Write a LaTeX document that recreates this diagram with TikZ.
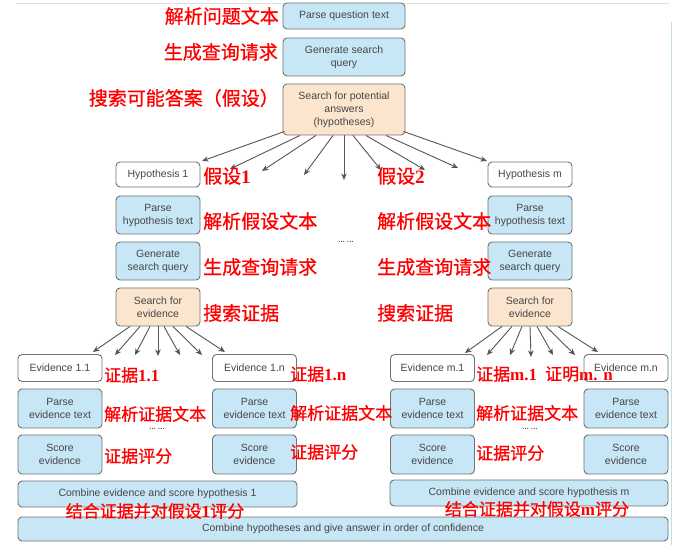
\documentclass[tikz,border=0pt]{standalone}
\usepackage{fontspec}
\setmainfont{Liberation Sans}
\newfontfamily\cjkfont{Noto Sans CJK SC}[RawFeature={embolden=0.8}]
\newfontfamily\latserif{Liberation Serif}
\usetikzlibrary{arrows.meta,calc}
\definecolor{boxblue}{RGB}{199,230,246}
\definecolor{boxpeach}{RGB}{252,229,206}
\definecolor{boxline}{RGB}{115,115,115}
\definecolor{boxtext}{RGB}{70,70,70}
\definecolor{arrowgray}{RGB}{85,85,85}
\definecolor{labred}{RGB}{255,0,0}
\newcommand\numb[1]{{\latserif\bfseries #1}}
\tikzset{
  box/.style={draw=boxline, rounded corners=4pt, line width=0.9pt, text=boxtext,
    font=\fontsize{10.5}{13}\selectfont, align=center, inner sep=0pt},
  bluebox/.style={box, fill=boxblue},
  peachbox/.style={box, fill=boxpeach},
  whitebox/.style={box, fill=white},
  zh/.style={text=labred, font=\cjkfont\fontsize{19}{19}\selectfont, inner sep=0pt},
  zhs/.style={text=labred, font=\cjkfont\fontsize{17}{17}\selectfont, inner sep=0pt},
  fan/.style={draw=arrowgray, line width=0.9pt, -{Stealth[length=6.5pt,width=5.5pt]}},
  dotsnode/.style={text=boxtext, font=\fontsize{7}{7}\selectfont, inner sep=0pt}
}
\begin{document}
\begin{tikzpicture}[x=1pt,y=-1pt]
\useasboundingbox (0,0) rectangle (673,548);
\fill[white] (0,0) rectangle (673,548);
% faint scan edges
\coordinate (tl) at (16,3);
\coordinate (tr) at (669,3);
\coordinate (rt) at (671,22);
\coordinate (rb) at (671,545);
\draw[black!12, line width=0.8pt] (tl) -- (tr);
\draw[teal!25, line width=0.8pt] (rt) -- (rb);

% top column
\node[bluebox, minimum width=122pt, minimum height=26pt] (q1) at (344,16) {Parse question text};
\node[bluebox, minimum width=122pt, minimum height=38pt] (q2) at (344,57) {Generate search\\query};
\node[peachbox, minimum width=122pt, minimum height=51pt] (q3) at (344,109.5) {Search for potential\\answers\\(hypotheses)};

% hypothesis columns
\foreach \cx/\nm/\lab in {158/h1/Hypothesis 1, 530/hm/Hypothesis m}{
  \node[whitebox, minimum width=84pt, minimum height=25pt] (\nm) at (\cx,174.5) {\lab};
  \node[bluebox, minimum width=84pt, minimum height=38pt] (\nm p) at (\cx,215) {Parse\\hypothesis text};
  \node[bluebox, minimum width=84pt, minimum height=38pt] (\nm g) at (\cx,261) {Generate\\search query};
  \node[peachbox, minimum width=84pt, minimum height=38pt] (\nm s) at (\cx,307) {Search for\\evidence};
}

% evidence columns
\foreach \cx/\nm/\lab in {60/e11/Evidence 1.1, 254.5/e1n/Evidence 1.n, 432.5/em1/Evidence m.1, 626/emn/Evidence m.n}{
  \node[whitebox, minimum width=84pt, minimum height=27pt] (\nm) at (\cx,368) {\lab};
  \node[bluebox, minimum width=84pt, minimum height=39pt] (\nm p) at (\cx,408.5) {Parse\\evidence text};
  \node[bluebox, minimum width=84pt, minimum height=39pt] (\nm s) at (\cx,454.5) {Score\\evidence};
}

\node[bluebox, minimum width=279pt, minimum height=26pt] (c1) at (157.5,494) {Combine evidence and score hypothesis 1};
\node[bluebox, minimum width=278pt, minimum height=26pt] (cm) at (529,493) {Combine evidence and score hypothesis m};
\node[bluebox, minimum width=650pt, minimum height=24pt] (fin) at (343,529) {Combine hypotheses and give answer in order of confidence};

% dots
\node[dotsnode] (d1) at (346,242) {\textbf{\ldots\ \ldots}};
\node[dotsnode] (d2) at (157,429) {\textbf{\ldots\ \ldots}};
\node[dotsnode] (d3) at (530,429) {\textbf{\ldots\ \ldots}};

% top fan
\coordinate (t1) at (202,161);
\coordinate (t2) at (230,169);
\coordinate (t3) at (262,171);
\coordinate (t4) at (304,175);
\coordinate (t5) at (344,180);
\coordinate (t6) at (381,170);
\coordinate (t7) at (425,170);
\coordinate (t8) at (458,168);
\coordinate (t9) at (487,161);
\draw[fan] ($(q3.south west)+(2,-4)$) -- (t1);
\draw[fan] ($(q3.south)+(-44,0)$) -- (t2);
\draw[fan] ($(q3.south)+(-28,0)$) -- (t3);
\draw[fan] ($(q3.south)+(-11,0)$) -- (t4);
\draw[fan] (q3.south) -- (t5);
\draw[fan] ($(q3.south)+(9,0)$) -- (t6);
\draw[fan] ($(q3.south)+(22,0)$) -- (t7);
\draw[fan] ($(q3.south)+(42,0)$) -- (t8);
\draw[fan] ($(q3.south east)+(-2,-4)$) -- (t9);

% left evidence fan
\foreach \i/\dx/\tx/\ty in {1/-28/93/352, 2/-18/115/355, 3/-8/135/355, 4/0/158/356, 5/6/180/355, 6/15/202/355, 7/28/225/352}{
  \coordinate (la\i) at (\tx,\ty);
  \draw[fan] ($(h1s.south)+(\dx,0)$) -- (la\i);
}
% right evidence fan
\foreach \i/\dx/\tx/\ty in {1/-28/465/353, 2/-18/487/355, 3/-8/510/355, 4/0/531/357, 5/7/553/355, 6/16/575/355, 7/28/598/352}{
  \coordinate (ra\i) at (\tx,\ty);
  \draw[fan] ($(hms.south)+(\dx,0)$) -- (ra\i);
}

% red labels
\node[zh, anchor=east] (lq1) at (279,16) {解析问题文本};
\node[zh, anchor=east] (lq2) at (278,52) {生成查询请求};
\node[zh, anchor=east] (lq3) at (279,98) {搜索可能答案（假设）};

\node[zh, anchor=west] (lh1) at (203,176) {假设\numb{1}};
\node[zh, anchor=west] (lh1p) at (203,221) {解析假设文本};
\node[zh, anchor=west] (lh1g) at (203,267) {生成查询请求};
\node[zh, anchor=west] (lh1s) at (203,313) {搜索证据};

\node[zh, anchor=west] (lh2) at (377,176) {假设\numb{2}};
\node[zh, anchor=west] (lh2p) at (377,221) {解析假设文本};
\node[zh, anchor=west] (lh2g) at (377,267) {生成查询请求};
\node[zh, anchor=west] (lh2s) at (377,313) {搜索证据};

\node[zhs, anchor=west] (le11) at (104,375) {证据\numb{1.1}};
\node[zhs, anchor=west] (le11p) at (104,414) {解析证据文本};
\node[zhs, anchor=west] (le11s) at (104,456) {证据评分};

\node[zhs, anchor=west] (le1n) at (290,374) {证据\numb{1.n}};
\node[zhs, anchor=west] (le1np) at (290,413) {解析证据文本};
\node[zhs, anchor=west] (le1ns) at (290,452) {证据评分};

\node[zhs, anchor=west] (lem1) at (476,374) {证据\numb{m.1}};
\node[zhs, anchor=west] (lemn) at (545,374) {证明\numb{m. n}};
\node[zhs, anchor=west] (lem1p) at (476,413) {解析证据文本};
\node[zhs, anchor=west] (lem1s) at (476,453) {证据评分};

\node[zhs] (lc1) at (155,511) {结合证据并对假设\numb{1}评分};
\node[zhs] (lcm) at (537,509) {结合证据并对假设\numb{m}评分};
\end{tikzpicture}
\end{document}
